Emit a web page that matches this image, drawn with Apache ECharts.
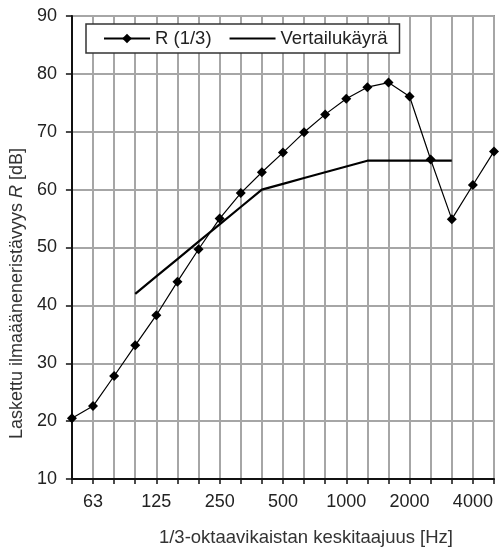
<!DOCTYPE html>
<html>
<head>
<meta charset="utf-8">
<script src="https://cdn.jsdelivr.net/npm/echarts@6/dist/echarts.min.js"></script>
<style>
html,body{margin:0;padding:0;background:#fff;}
#chart{width:501px;height:552px;}
</style>
</head>
<body>
<div id="chart"></div>
<script>
const categories = ['50','63','80','100','125','160','200','250','315','400','500','630','800','1000','1250','1600','2000','2500','3150','4000','5000'];
const rValues = [20.5, 22.6, 27.8, 33.1, 38.3, 44.1, 49.7, 55.0, 59.4, 63.0, 66.4, 69.9, 73.0, 75.7, 77.7, 78.5, 76.1, 65.2, 54.9, 60.8, 66.6];
const refValues = [null, null, null, 42, 45, 48, 51, 54, 57, 60, 61, 62, 63, 64, 65, 65, 65, 65, 65, null, null];
const shownLabels = ['63','125','250','500','1000','2000','4000'];
const seriesNames = ['R (1/3)', 'Vertailukäyrä'];

const chart = echarts.init(document.getElementById('chart'), null, {renderer: 'canvas'});
const font = 'Arial, "Liberation Sans", sans-serif';
chart.setOption({
  animation: false,
  backgroundColor: '#fff',
  grid: {left: 71, right: 7, top: 16, bottom: 73, show: true, borderColor: '#444', borderWidth: 1.5, containLabel: false},
  legend: {
    left: 86, top: 24,
    data: [
      {name: seriesNames[0]},
      {name: seriesNames[1], itemStyle: {opacity: 0}}
    ],
    backgroundColor: '#fff',
    borderColor: '#333',
    borderWidth: 1.5,
    borderRadius: 0,
    padding: [5, 12, 5, 17],
    itemWidth: 46, itemHeight: 12, itemGap: 17,
    textStyle: {fontFamily: font, fontSize: 18.5, color: '#222'},
    z: 10
  },
  xAxis: {
    type: 'category',
    data: categories,
    boundaryGap: false,
    axisLine: {lineStyle: {color: '#111', width: 2}},
    axisTick: {show: true, interval: 0, length: 5, lineStyle: {color: '#111', width: 1.5}},
    axisLabel: {
      interval: function (i, v) { return shownLabels.indexOf(v) >= 0; },
      fontFamily: font, fontSize: 18, color: '#222', margin: 14
    },
    splitLine: {show: true, interval: 0, lineStyle: {color: '#a6a6a6', width: 2}},
    name: '1/3-oktaavikaistan keskitaajuus [Hz]',
    nameLocation: 'middle',
    nameGap: 49,
    nameTextStyle: {fontFamily: font, fontSize: 18.5, color: '#333', padding: [0, 0, 0, 46]}
  },
  yAxis: {
    type: 'value',
    min: 10, max: 90, interval: 10,
    axisLine: {show: true, lineStyle: {color: '#111', width: 2}},
    axisTick: {show: true, length: 6, lineStyle: {color: '#111', width: 1.5}},
    axisLabel: {fontFamily: font, fontSize: 18, color: '#222', margin: 15},
    splitLine: {show: true, lineStyle: {color: '#a6a6a6', width: 2}},
    name: 'Laskettu ilmaääneneristävyys {i|R} [dB]',
    nameLocation: 'middle',
    nameGap: 41,
    nameTextStyle: {
      fontFamily: font, fontSize: 18, color: '#333', padding: [0, 92, 0, 0],
      rich: {i: {fontFamily: font, fontSize: 18, color: '#333', fontStyle: 'italic'}}
    }
  },
  series: [
    {
      name: seriesNames[0],
      type: 'line',
      data: rValues,
      symbol: 'diamond',
      symbolSize: 10,
      itemStyle: {color: '#000'},
      lineStyle: {color: '#000', width: 1.2},
      z: 5
    },
    {
      name: seriesNames[1],
      type: 'line',
      data: refValues,
      symbol: 'none',
      showSymbol: false,
      itemStyle: {color: '#000'},
      lineStyle: {color: '#000', width: 2.2},
      z: 4
    }
  ]
});
</script>
</body>
</html>
